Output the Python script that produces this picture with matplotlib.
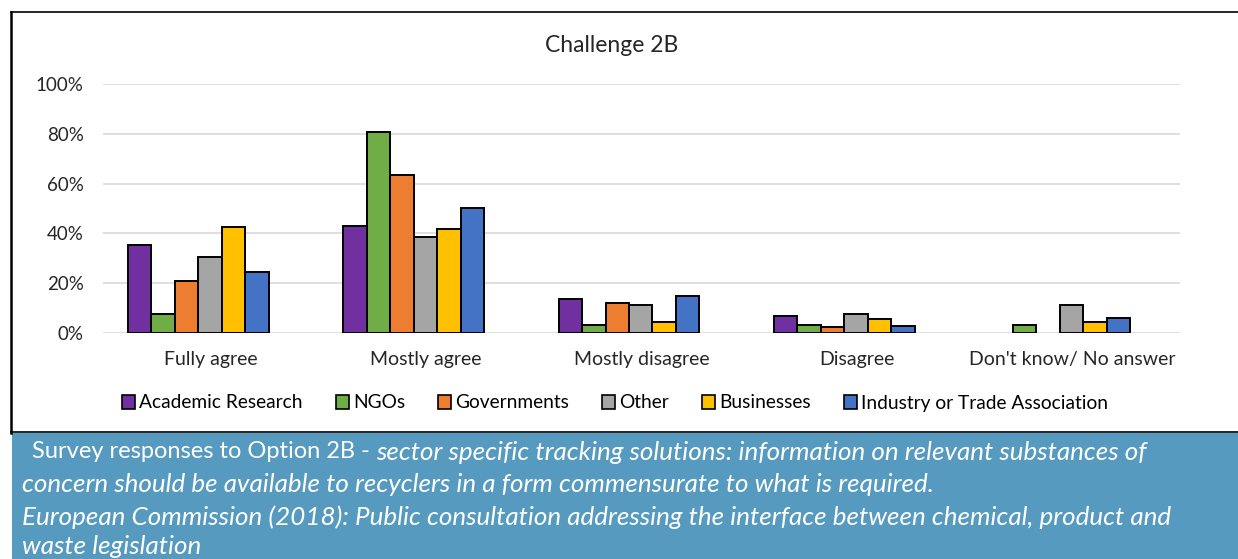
import numpy as np
import matplotlib
matplotlib.use("Agg")
import matplotlib.pyplot as plt
from matplotlib.ticker import PercentFormatter
from matplotlib.patches import Rectangle
from matplotlib.lines import Line2D

plt.rcParams['font.family'] = ['Lato', 'DejaVu Sans']

categories = ["Fully agree", "Mostly agree", "Mostly disagree", "Disagree", "Don't know/ No answer"]
groups = ["Academic Research", "NGOs", "Governments", "Other", "Businesses", "Industry or Trade Association"]
colors = ["#7030A0", "#70AD47", "#ED7D31", "#A5A5A5", "#FFC000", "#4472C4"]

academic = [35.5, 42.8, 13.7, 6.7, 0.0]
ngos = [7.5, 80.7, 3.3, 3.3, 3.3]
governments = [20.9, 63.6, 11.9, 2.4, 0.0]
other = [30.5, 38.4, 11.1, 7.5, 11.1]
businesses = [42.6, 41.8, 4.5, 5.6, 4.5]
industry = [24.3, 50.3, 14.7, 2.9, 6.0]
series = [academic, ngos, governments, other, businesses, industry]

fig = plt.figure(figsize=(12.38, 5.59), dpi=100)
ax = fig.add_axes([103 / 1238, 1 - 333 / 559, 1077 / 1238, 249 / 559])

x = np.arange(len(categories))
w = 0.109
shift = -0.058  # bars sit a little left of the labels in the original
for i, (vals, c, g) in enumerate(zip(series, colors, groups)):
    h = np.array(vals, dtype=float) / 100
    h[h == 0] = np.nan  # no outline for empty bars
    ax.bar(x + shift + (i - 2.5) * w, h, width=w, color=c,
           edgecolor="black", linewidth=1.4, label=g, zorder=3)

ax.set_xlim(-0.5, len(categories) - 0.5)
ax.set_ylim(0, 1.0)
ax.set_yticks(np.arange(0, 1.01, 0.2))
ax.yaxis.set_major_formatter(PercentFormatter(1.0, decimals=0))
ax.set_xticks(x)
ax.set_xticklabels(categories)
ax.grid(axis="y", color="#D9D9D9", linewidth=1.2, zorder=0)
ax.tick_params(axis="both", length=0, colors="#262626")
ax.tick_params(axis="x", pad=13, labelsize=14)
ax.tick_params(axis="y", pad=14, labelsize=13.5)
for s in ax.spines.values():
    s.set_visible(False)

fig.text(612 / 1238, 1 - 45 / 559, "Challenge 2B", ha="center", va="center",
         fontsize=16.5, color="#262626")

handles = [Rectangle((0, 0), 1, 1, facecolor=c, edgecolor="black", linewidth=1.2) for c in colors]
fig.legend(handles, groups, loc="center", bbox_to_anchor=(615 / 1238, 1 - 403 / 559),
           ncol=6, frameon=False, fontsize=13.8, handlelength=0.7, handleheight=0.7,
           handletextpad=0.2, columnspacing=1.72)

# chart frame lines
fig.add_artist(Line2D([11 / 1238, 11 / 1238], [1 - 12 / 559, 1 - 433 / 559], color="black", linewidth=1.8))
fig.add_artist(Line2D([11 / 1238, 1], [1 - 12 / 559, 1 - 12 / 559], color="black", linewidth=1.2))
fig.add_artist(Line2D([11 / 1238, 1], [1 - 432 / 559, 1 - 432 / 559], color="black", linewidth=1.2))

# caption box
fig.add_artist(Rectangle((12 / 1238, 0), 1, (559 - 433) / 559, facecolor="#569ABF",
                         edgecolor="none", transform=fig.transFigure))

reg_size = 17.0
ital_size = 18.7
fig.canvas.draw()
t1 = fig.text(32 / 1238, 1 - 452 / 559, "Survey responses to Option 2B - ", ha="left", va="center",
              fontsize=reg_size, color="white")
fig.canvas.draw()
bb = t1.get_window_extent()
fig.text(bb.x1 / 1238, 1 - 452 / 559,
         "sector specific tracking solutions: information on relevant substances of",
         ha="left", va="center", fontsize=ital_size, color="white", style="italic")
italic_lines = ["concern should be available to recyclers in a form commensurate to what is required.",
                "European Commission (2018): Public consultation addressing the interface between chemical, product and",
                "waste legislation"]
for yy, line in zip([485, 517, 546], italic_lines):
    fig.text(22 / 1238, 1 - yy / 559, line, ha="left", va="center", fontsize=ital_size,
             color="white", style="italic")

fig.savefig("out.png", dpi=100)
